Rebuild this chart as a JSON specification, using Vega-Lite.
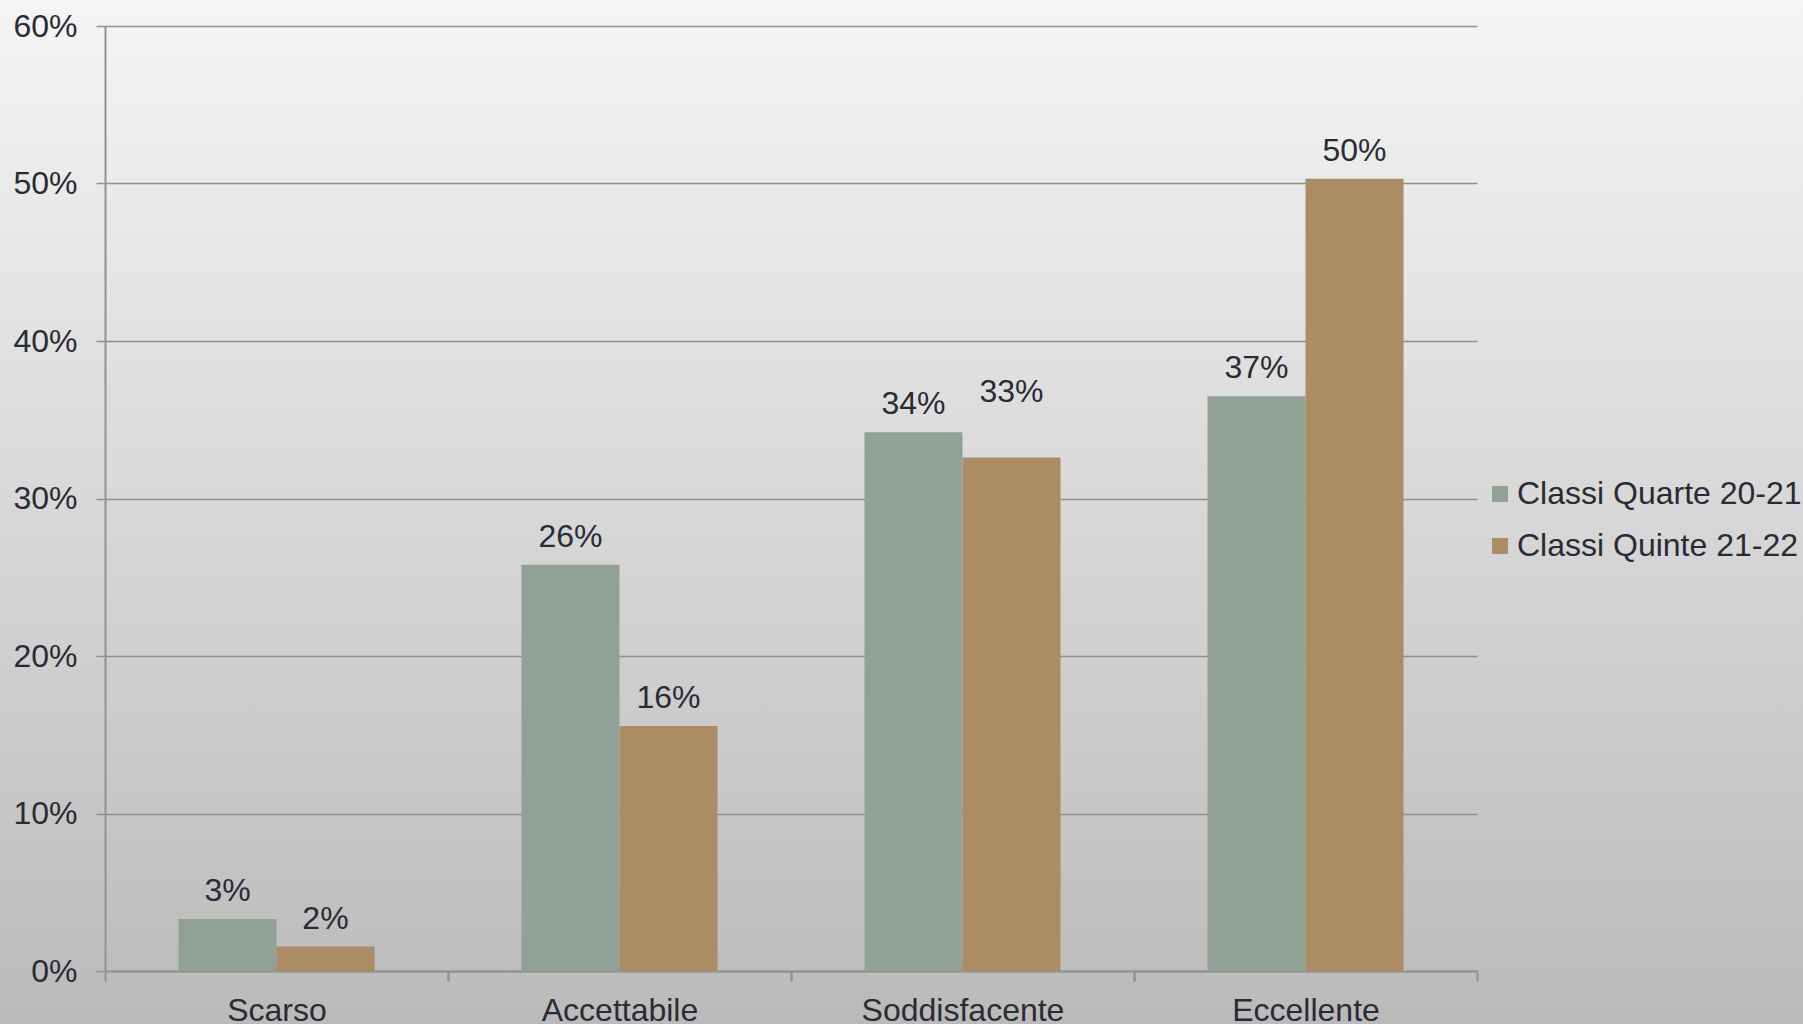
{
  "$schema": "https://vega.github.io/schema/vega-lite/v6.json",
  "width": 1803,
  "height": 1024,
  "autosize": {"type": "none"},
  "padding": 0,
  "background": "#d8d8d8",
  "view": {
    "stroke": null,
    "fill": {
      "gradient": "linear",
      "x1": 0, "y1": 0, "x2": 0, "y2": 1,
      "stops": [
        {"offset": 0, "color": "#f5f5f5"},
        {"offset": 1, "color": "#bababa"}
      ]
    }
  },
  "config": {
    "font": "Liberation Sans",
    "axis": {"labelFont": "Liberation Sans", "labelFontSize": 32, "labelColor": "#2b2b36", "title": null, "labelLimit": 500},
    "legend": {"labelFont": "Liberation Sans", "labelFontSize": 32, "labelColor": "#2b2b36"}
  },
  "data": {
    "values": [
      {"categoria": "Scarso", "serie": "Classi Quarte 20-21", "valore": 0.033},
      {"categoria": "Scarso", "serie": "Classi Quinte 21-22", "valore": 0.0155},
      {"categoria": "Accettabile", "serie": "Classi Quarte 20-21", "valore": 0.258},
      {"categoria": "Accettabile", "serie": "Classi Quinte 21-22", "valore": 0.1555},
      {"categoria": "Soddisfacente", "serie": "Classi Quarte 20-21", "valore": 0.342},
      {"categoria": "Soddisfacente", "serie": "Classi Quinte 21-22", "valore": 0.326},
      {"categoria": "Eccellente", "serie": "Classi Quarte 20-21", "valore": 0.365},
      {"categoria": "Eccellente", "serie": "Classi Quinte 21-22", "valore": 0.503}
    ]
  },
  "encoding": {
    "xOffset": {
      "field": "serie",
      "type": "nominal",
      "sort": ["Classi Quarte 20-21", "Classi Quinte 21-22"],
      "scale": {"paddingInner": 0, "paddingOuter": 0}
    },
    "y": {
      "field": "valore",
      "type": "quantitative",
      "scale": {"domain": [0, 0.6], "range": [971, 26], "nice": false},
      "axis": {
        "orient": "left",
        "offset": -105,
        "values": [0, 0.1, 0.2, 0.3, 0.4, 0.5, 0.6],
        "format": ".0%",
        "grid": true,
        "gridColor": "#8f8f8f",
        "gridWidth": 1.5,
        "domainColor": "#929292",
        "domainWidth": 2,
        "tickColor": "#929292",
        "tickWidth": 1.5,
        "tickSize": 9,
        "labelPadding": 19
      }
    }
  },
  "resolve": {"axis": {"x": "independent"}},
  "layer": [
    {
      "mark": {"type": "bar"},
      "encoding": {
        "x": {
          "field": "categoria",
          "type": "nominal",
          "sort": ["Scarso", "Accettabile", "Soddisfacente", "Eccellente"],
          "scale": {"range": [105, 1477], "paddingInner": 0.4286, "paddingOuter": 0.2143},
          "axis": {
            "orient": "bottom",
            "offset": -53,
            "labelAngle": 0,
            "bandPosition": 0,
            "tickOffset": -73.5,
            "labelOffset": 73.5,
            "grid": false,
            "domainColor": "#929292",
            "domainWidth": 2,
            "tickColor": "#929292",
            "tickWidth": 2,
            "tickSize": 10,
            "labelPadding": 14
          }
        },
        "color": {
          "field": "serie",
          "type": "nominal",
          "sort": ["Classi Quarte 20-21", "Classi Quinte 21-22"],
          "scale": {"range": ["#91a196", "#ab8c64"]},
          "legend": {
            "title": null,
            "orient": "none",
            "legendX": 1484,
            "legendY": 478,
            "symbolType": "square",
            "symbolSize": 256,
            "symbolStrokeWidth": 0,
            "symbolOpacity": 1,
            "labelOffset": 1,
            "rowPadding": 20,
            "padding": 0,
            "labelLimit": 400
          }
        }
      }
    },
    {
      "transform": [{"filter": "!(datum.categoria == 'Soddisfacente' && datum.serie == 'Classi Quinte 21-22')"}],
      "mark": {"type": "text", "baseline": "alphabetic", "align": "center", "dy": -18, "fontSize": 32, "font": "Liberation Sans", "color": "#2b2b36"},
      "encoding": {
        "x": {
          "field": "categoria",
          "type": "nominal",
          "sort": ["Scarso", "Accettabile", "Soddisfacente", "Eccellente"],
          "axis": {
            "orient": "bottom",
            "offset": -53,
            "labels": false,
            "domain": false,
            "grid": false,
            "bandPosition": 1,
            "tickOffset": 73.5,
            "tickColor": "#929292",
            "tickWidth": 2,
            "tickSize": 10
          }
        },
        "text": {"field": "valore", "type": "quantitative", "format": ".0%"}
      }
    },
    {
      "transform": [{"filter": "datum.categoria == 'Soddisfacente' && datum.serie == 'Classi Quinte 21-22'"}],
      "mark": {"type": "text", "baseline": "alphabetic", "align": "center", "dy": -56, "fontSize": 32, "font": "Liberation Sans", "color": "#2b2b36"},
      "encoding": {
        "x": {
          "field": "categoria",
          "type": "nominal",
          "sort": ["Scarso", "Accettabile", "Soddisfacente", "Eccellente"],
          "axis": null
        },
        "text": {"field": "valore", "type": "quantitative", "format": ".0%"}
      }
    }
  ]
}
